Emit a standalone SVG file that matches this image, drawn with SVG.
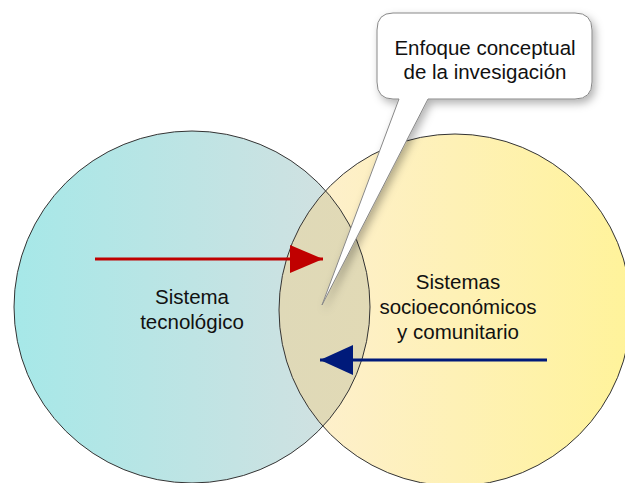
<svg xmlns="http://www.w3.org/2000/svg" width="625" height="483" viewBox="0 0 625 483">
<defs>
<style>
.lbl{font-family:"Liberation Sans",Arial,sans-serif;font-size:20.5px;fill:#111;text-anchor:middle}
.edge{fill:none;stroke:#333;stroke-width:1}
</style>
<linearGradient id="gCyan" x1="0" y1="0" x2="1" y2="0">
<stop offset="0" stop-color="#a6e8e8"/><stop offset="1" stop-color="#d6e0e0"/>
</linearGradient>
<linearGradient id="gYel" x1="0" y1="0" x2="1" y2="0">
<stop offset="0" stop-color="#fdefd2"/><stop offset="1" stop-color="#fff39a"/>
</linearGradient>
<linearGradient id="gOv" x1="0" y1="0" x2="1" y2="0">
<stop offset="0" stop-color="#dfd9b8"/><stop offset="1" stop-color="#e8dcae"/>
</linearGradient>
<clipPath id="clipL"><ellipse cx="192" cy="307" rx="178" ry="176"/></clipPath>
<filter id="sh" x="-20%" y="-20%" width="150%" height="150%">
<feDropShadow dx="3" dy="4" stdDeviation="4" flood-color="#000" flood-opacity="0.3"/>
</filter>
<marker id="mRed" markerWidth="34" markerHeight="28" refX="33" refY="14" orient="auto" markerUnits="userSpaceOnUse">
<path d="M0,0 L33,14 L0,28 Z" fill="#c00000"/>
</marker>
<marker id="mBlue" markerWidth="34" markerHeight="30" refX="33" refY="15" orient="auto" markerUnits="userSpaceOnUse">
<path d="M0,0 L33,15 L0,30 Z" fill="#001a7a"/>
</marker>
</defs>
<g id="sistema-tecnologico">
<ellipse cx="192" cy="307" rx="178" ry="176" fill="url(#gCyan)"/>
</g>
<g id="sistemas-socioeconomicos">
<ellipse cx="455" cy="310" rx="176" ry="176" fill="url(#gYel)"/>
<ellipse cx="455" cy="310" rx="176" ry="176" fill="url(#gOv)" clip-path="url(#clipL)"/>
<ellipse class="edge" cx="455" cy="310" rx="176" ry="176"/>
</g>
<ellipse class="edge" cx="192" cy="307" rx="178" ry="176"/>
<text class="lbl" x="192" y="304">Sistema</text>
<text class="lbl" x="192" y="329">tecnológico</text>
<text class="lbl" x="458" y="289">Sistemas</text>
<text class="lbl" x="458" y="314">socioeconómicos</text>
<text class="lbl" x="458" y="339">y comunitario</text>
<g id="connectors">
<line x1="95" y1="259" x2="323" y2="259" stroke="#c00000" stroke-width="3" marker-end="url(#mRed)"/>
<line x1="547" y1="360" x2="320" y2="360" stroke="#001a7a" stroke-width="3" marker-end="url(#mBlue)"/>
</g>
<g id="enfoque-conceptual">
<path d="M393,13 H575 Q592,13 592,30 V82 Q592,99 575,99 H428 L322,305 L399,99 H393 Q377,99 377,82 V30 Q377,13 393,13 Z" fill="#fff" stroke="#888" stroke-width="1" filter="url(#sh)"/>
<text class="lbl" x="485" y="55">Enfoque conceptual</text>
<text class="lbl" x="485" y="79">de la invesigación</text>
</g>
</svg>
